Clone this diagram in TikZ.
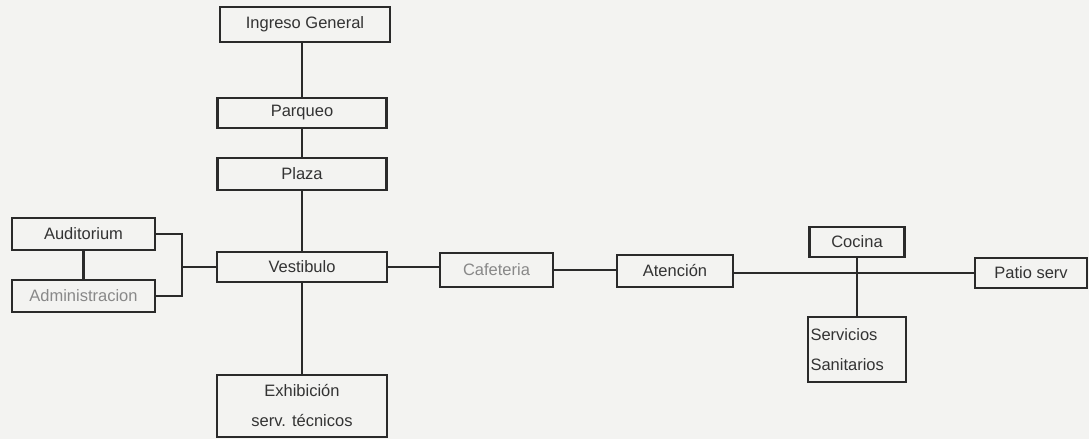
\documentclass[tikz,border=0pt]{standalone}
\usepackage{fontspec}
\setmainfont{Liberation Sans}
\definecolor{ink}{HTML}{2A2A2A}
\definecolor{txt}{HTML}{333333}
\definecolor{faint}{HTML}{888888}
\definecolor{paper}{HTML}{F3F3F1}
\begin{document}
\begin{tikzpicture}[x=1pt,y=-1pt,
  box/.style={draw=ink, line width=2.9pt, inner sep=0pt, font=\fontsize{16.5}{30}\selectfont, text=txt, align=center},
  link/.style={draw=ink, line width=2.1pt}]
\fill[paper] (0,0) rectangle (1089,439);
\useasboundingbox (0,0) rectangle (1089,439);
% nodes
\node[box, minimum width=170pt, minimum height=35pt] (ing) at (305,24.5) {Ingreso General};
\node[box, minimum width=169pt, minimum height=30pt] (parq) at (302,113) {Parqueo};
\node[box, minimum width=169pt, minimum height=32pt] (plaza) at (302,174) {Plaza};
\node[box, minimum width=170pt, minimum height=30pt] (vest) at (302,267) {Vestibulo};
\node[box, minimum width=170pt, minimum height=62pt] (exh) at (302,406) {Exhibición\\serv. técnicos};
\node[box, minimum width=143pt, minimum height=32pt] (aud) at (83.5,234) {Auditorium};
\node[box, minimum width=143pt, minimum height=32pt, text=faint] (adm) at (83.5,296) {Administracion};
\node[box, minimum width=113pt, minimum height=34pt, text=faint] (caf) at (496.5,270) {Cafeteria};
\node[box, minimum width=116pt, minimum height=32pt] (aten) at (675,271) {Atención};
\node[box, minimum width=95pt, minimum height=30pt] (coc) at (857,242) {Cocina};
\node[box, minimum width=98pt, minimum height=65pt, align=left, text width=93pt] (serv) at (857,349.5) {Servicios\\Sanitarios};
\node[box, minimum width=112pt, minimum height=30pt] (patio) at (1031,273) {Patio serv};
\coordinate (brk) at (182,267);
% connectors
\draw[link] (parq.north |- ing.south) -- (parq.north);
\draw[link] (parq) -- (plaza);
\draw[link] (plaza) -- (vest);
\draw[link] (vest) -- (exh);
\draw[link] (aud) -- (adm);
\draw[link] (aud.east) -| (brk) |- (adm.east);
\draw[link] (brk) -- (vest.west);
\draw[link] (vest.east) -- (vest.east -| caf.west);
\draw[link] (caf.east) -- (caf.east -| aten.west);
\draw[link] (aten.east |- patio.west) -- (patio.west);
\draw[link] (coc) -- (serv);
\end{tikzpicture}
\end{document}
